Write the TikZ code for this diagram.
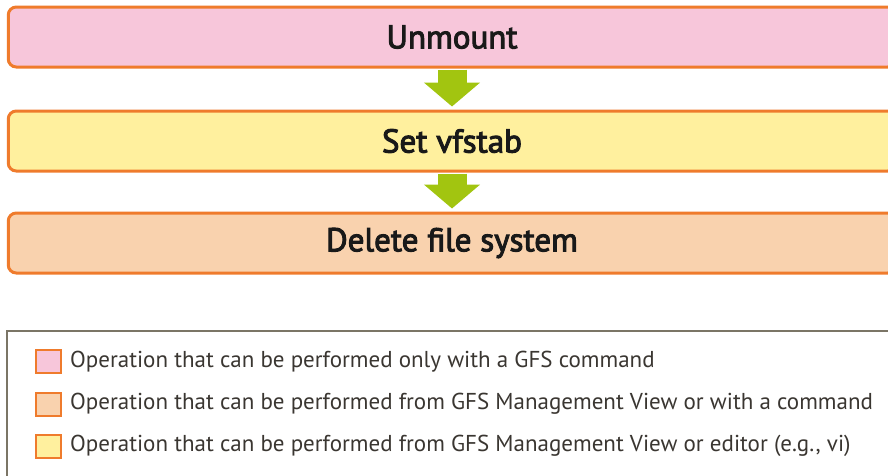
\documentclass[tikz,border=0pt]{standalone}
\usepackage{fontspec}
\setmainfont{PT Sans}
\newfontfamily\stepfont[FakeBold=3]{PT Sans}
\usepackage[dvipsnames,svgnames,x11names]{xcolor}
\usetikzlibrary{arrows.meta, positioning, backgrounds}
\definecolor{stepPink}{HTML}{F7C6DA}
\definecolor{stepPeach}{HTML}{F9D2AE}
\definecolor{stepYellow}{HTML}{FFF09E}
\definecolor{stepEdge}{HTML}{EF7B2C}
\definecolor{flowGreen}{HTML}{A2C510}
\definecolor{keyFrame}{HTML}{7B7566}
\definecolor{keyText}{HTML}{3A3631}
\tikzset{
  opbox/.style={rectangle, rounded corners=8pt, draw=stepEdge, line width=3pt,
                minimum width=887.5pt, minimum height=60pt, inner sep=0pt,
                font=\stepfont\fontsize{33}{36}\selectfont, text=black!90},
  pinkOp/.style={opbox, fill=stepPink},
  yellowOp/.style={opbox, fill=stepYellow},
  peachOp/.style={opbox, fill=stepPeach},
  flow/.style={draw=flowGreen, line width=29pt,
               -{Triangle[width=55pt, length=24pt]},
               shorten <=1pt, shorten >=3pt},
  keyBox/.style={rectangle, draw=stepEdge, line width=2pt,
                 minimum width=25pt, minimum height=23pt, inner sep=0pt},
  keyLabel/.style={right=8pt, inner sep=0pt, text=keyText,
                   font=\fontsize{23}{26}\selectfont},
}
\begin{document}
\begin{tikzpicture}[x=1pt, y=-1pt]
    \useasboundingbox (0,0) rectangle (888,475);
    \clip (0,0) rectangle (888,475);
    %% flow of operations
    \node[pinkOp]   (unmount) at (452,37)  {Unmount};
    \node[yellowOp] (vfstab)  at (452,141) {Set vfstab};
    \node[peachOp]  (delfs)   at (452,243) {Delete file system};
    \begin{scope}[on background layer]
      \draw[flow] (unmount.south) -- (vfstab.north);
      \draw[flow] (vfstab.south) -- (delfs.north);
    \end{scope}
    %% legend
    \draw[keyFrame, line width=2.5pt] (7,331) rectangle (900,490);
    \node[keyBox, fill=stepPink]   (key1) at (48.5,361.5) {};
    \node[keyBox, fill=stepPeach]  (key2) at (48.5,404)   {};
    \node[keyBox, fill=stepYellow] (key3) at (48.5,446)   {};
    \node[keyLabel] at (key1.east) {Operation that can be performed only with a GFS command};
    \node[keyLabel] at (key2.east) {Operation that can be performed from GFS Management View or with a command};
    \node[keyLabel] at (key3.east) {Operation that can be performed from GFS Management View or editor (e.g., vi)};
\end{tikzpicture}
\end{document}
